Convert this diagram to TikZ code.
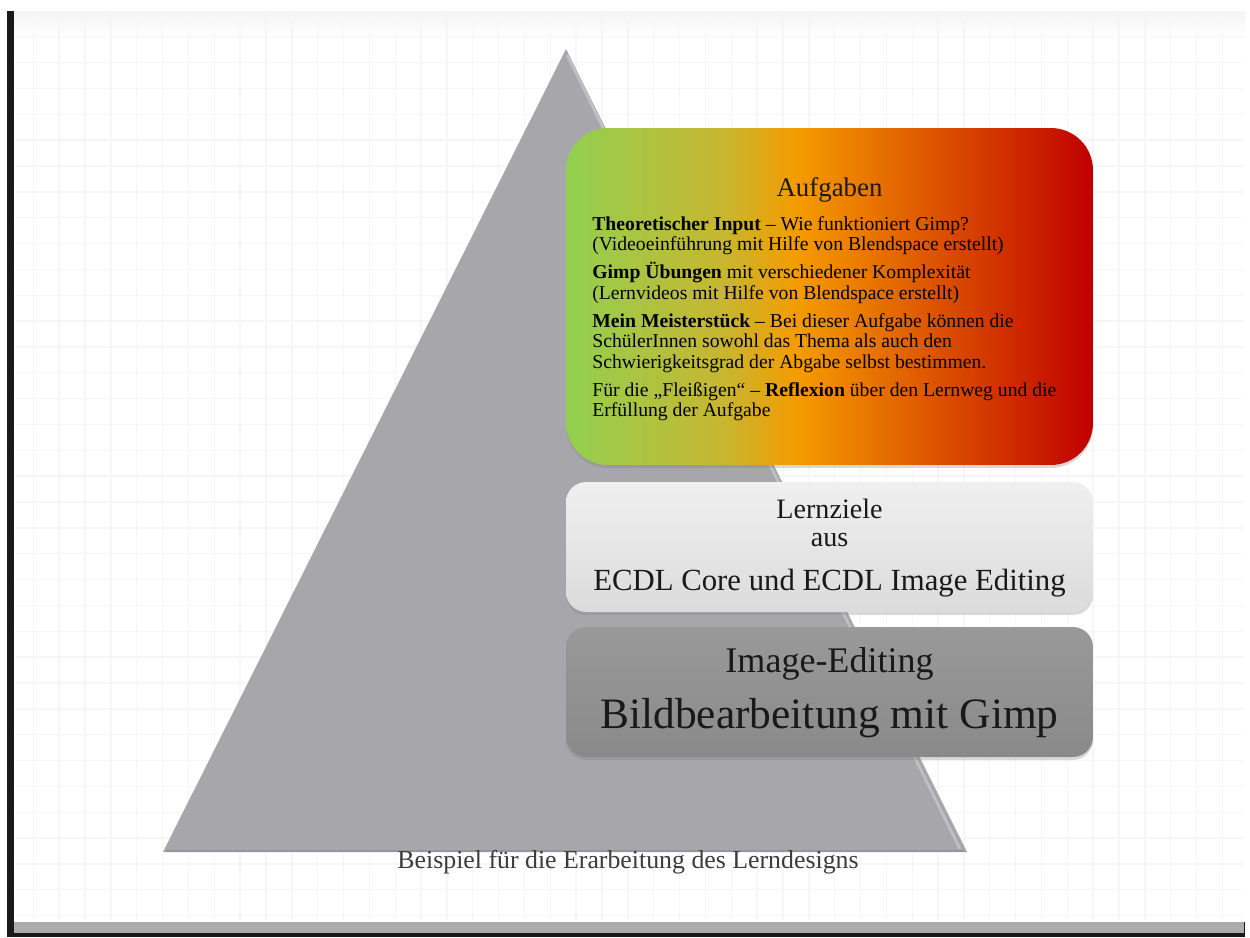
\documentclass[tikz,border=0pt]{standalone}
\usepackage{fontspec}
\setmainfont{Liberation Serif}
\usetikzlibrary{shadows}

\definecolor{taskgreen}{RGB}{146,208,80}
\definecolor{taskolive}{RGB}{200,182,48}
\definecolor{taskorange}{RGB}{245,155,0}
\definecolor{taskred}{RGB}{192,0,0}
\definecolor{trigray}{RGB}{167,166,171}
\definecolor{trilight}{RGB}{192,191,196}
\definecolor{tridark}{RGB}{150,149,155}
\definecolor{gridgray}{RGB}{246,246,246}
\definecolor{captiongray}{RGB}{60,60,60}

% green to red across the top layer
\pgfdeclarehorizontalshading{taskshade}{100bp}{color(0bp)=(taskgreen); color(25bp)=(taskgreen);
    color(40bp)=(taskolive); color(47bp)=(taskorange); color(75bp)=(taskred); color(100bp)=(taskred)}

% tight lines for the task list
\newcommand\tasklistfont{\fontsize{11.2}{11.65}\selectfont\lineskiplimit=-6pt\relax}

\begin{document}
\begin{tikzpicture}[x=0.02cm, y=-0.02cm,
    box/.style={rounded corners=0.4cm, minimum width=10.54cm, minimum height=2.6cm,
                inner sep=0pt,
                drop shadow={shadow xshift=0pt, shadow yshift=-0.06cm, opacity=0.3}},
    taskbox/.style={box, rounded corners=0.84cm, minimum height=6.74cm, shading=taskshade},
    goalbox/.style={box, top color=gray!12, bottom color=gray!28},
    basebox/.style={box, top color=gray!80, bottom color=gray!92},
    label/.style={anchor=base, inner sep=0pt, text=black!90}]

    \useasboundingbox (0,0) rectangle (1250,937);

    % draw slide frame
    \fill[black!90] (7,11) rectangle (1245,937);
    \fill[gray!65] (14,918) rectangle (1244,933);
    \fill[white] (14,11) rectangle (1245,922);
    \shade[top color=gray!9, bottom color=white] (14,11) rectangle (1245,38);

    % draw grid
    \foreach \i in {0,...,46}
        \draw[gridgray, line width=0.8pt] (33.3+\i*25.85,11) -- (33.3+\i*25.85,920);
    \foreach \j in {0,...,34}
        \draw[gridgray, line width=0.8pt] (15,36.7+\j*25.85) -- (1244,36.7+\j*25.85);

    % draw pyramid
    \coordinate (apex)  at (566,49);
    \coordinate (left)  at (163,852);
    \coordinate (right) at (967,852);
    \fill[trigray] (apex) -- (right) -- (left) -- cycle;
    \draw[trilight, line width=1.5pt] (567,55) -- (960,849);
    \draw[tridark, line width=1.2pt] (166,851) -- (964,851);

    % draw the three layers
    \node[taskbox] (tasks) at (829.5,296.5) {};
    \node[goalbox] (goals) at (829.5,547) {};
    \node[basebox] (base)  at (829.5,692) {};

    % texts of the top layer
    \node[label, font=\fontsize{15.3}{18}\selectfont] (tasktitle) at (829.5,196) {Aufgaben};
    \node[anchor=north west, inner sep=0pt, align=left, text=black,
          font=\tasklistfont] (tasklist) at (592,216)
        {\textbf{Theoretischer Input} – Wie funktioniert Gimp?\\
         (Videoeinführung mit Hilfe von Blendspace erstellt)\\[4.3pt]
         \textbf{Gimp Übungen} mit verschiedener Komplexität\\
         (Lernvideos mit Hilfe von Blendspace erstellt)\\[4.3pt]
         \textbf{Mein Meisterstück} – Bei dieser Aufgabe können die\\
         SchülerInnen sowohl das Thema als auch den\\
         Schwierigkeitsgrad der Abgabe selbst bestimmen.\\[4.3pt]
         Für die „Fleißigen“ – \textbf{Reflexion} über den Lernweg und die\\
         Erfüllung der Aufgabe};

    % texts of the middle layer
    \node[label, font=\fontsize{16}{19}\selectfont] (goaltitle) at (829.5,518) {Lernziele};
    \node[label, font=\fontsize{16}{19}\selectfont] (goalfrom)  at (829.5,546) {aus};
    \node[label, font=\fontsize{17.5}{21}\selectfont] (goalecdl) at (829.5,590)
        {ECDL Core und ECDL Image Editing};

    % texts of the bottom layer
    \node[label, font=\fontsize{20.5}{24}\selectfont] (basetitle) at (829.5,672) {Image-Editing};
    \node[label, font=\fontsize{24.7}{29}\selectfont] (basetopic) at (829.5,728)
        {Bildbearbeitung mit Gimp};

    % caption below the pyramid
    \node[label, text=captiongray, font=\fontsize{14.7}{17}\selectfont] (caption) at (628,868)
        {Beispiel für die Erarbeitung des Lerndesigns};
\end{tikzpicture}
\end{document}
